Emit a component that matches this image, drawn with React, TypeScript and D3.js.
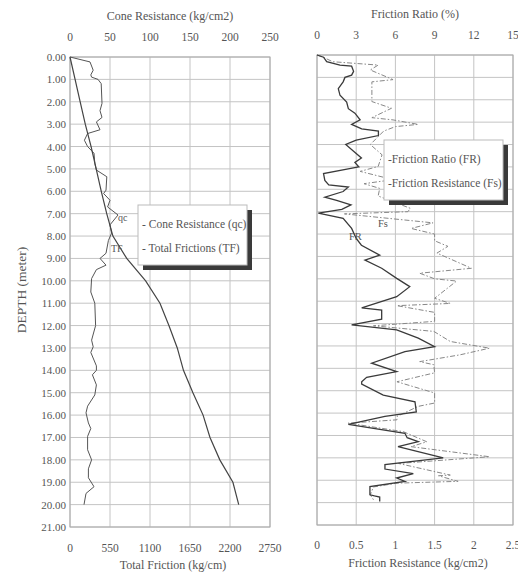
import React from "react";
import * as d3 from "d3";

// ---------- data ----------
const depthTicks = d3.range(0, 22, 1);
const qcTicks = [0, 50, 100, 150, 200, 250];
const tfTicks = [0, 550, 1100, 1650, 2200, 2750];
const frTicks = [0, 3, 6, 9, 12, 15];
const fsTicks = [0, 0.5, 1, 1.5, 2, 2.5];

const qcDepth = [0,0.22,0.59,0.8,0.9,1.0,1.19,2.07,2.4,2.7,2.9,3.25,3.42,3.72,4.0,4.3,4.75,5.05,5.35,5.95,6.1,6.4,6.7,7.06,7.5,7.87,8.2,8.77,9.0,9.3,9.5,9.9,10.5,11.0,12.0,12.65,12.95,13.2,13.8,14.0,14.2,14.65,15.1,15.6,15.9,16.35,16.6,16.95,17.55,18.0,18.4,18.8,19.2,19.5,20.0];
const qcValue = [0,25,29,26,27,35,39,40,37.5,40,33,37.5,22,18,22,30,31,33,46,45,42,50,47,60,50,52,48,45,37.5,45,33,27,26,31,32,27,29,26,33,33,28,33,31,22,20,23,26,22,22,27,23,23,30,20,17.5];

const tfDepth = [0,1,2,3,4,5,6,7,8,9,10,11,12,13,14,15,16,17,18,19,20];
const tfValue = [0,70,140,210,290,360,430,505,590,780,1040,1237,1360,1475,1560,1690,1830,1925,2060,2240,2320];

const frDepth = [0,0.1,0.3,0.45,0.5,0.73,0.9,1.0,1.2,1.5,1.8,2.1,2.4,2.6,2.9,3.1,3.3,3.4,3.6,3.8,4.0,4.3,4.6,4.8,5.0,5.3,5.6,5.8,5.9,6.1,6.35,6.5,6.7,6.9,7.07,7.3,7.75,8.2,8.5,8.94,9.16,9.53,9.98,10.35,10.8,11.3,11.4,11.8,12.06,12.28,12.65,13.03,13.25,13.77,14.15,14.4,14.6,14.7,15.2,15.5,15.95,16.15,16.5,16.9,17.1,17.28,17.5,18.0,18.3,18.5,18.7,18.9,19.05,19.28,19.65,19.7,19.75,19.95];
const frValue = [0,0.5,0.74,1.76,2.65,2.8,2.65,2.14,2.0,1.63,1.76,2.27,2.4,2.9,3.3,2.65,3.42,4.7,4.7,3.0,2.2,2.8,3.4,2.9,3.2,0.5,0.6,0.9,2.4,2.0,0.6,1.5,2.6,1.9,0.1,2.0,2.65,3.0,3.4,4.8,3.67,4.95,6.1,7.1,6.1,3.42,4.95,4.95,2.65,6.1,7.75,9.0,6.73,4.18,6.1,3.8,3.42,3.42,5.07,7.5,7.6,5.2,2.4,6.73,6.9,7.75,6.2,9.66,5.2,5.2,7.37,6.1,6.73,4.05,4.05,4.4,4.8,4.8];

const fsDepth = [0,0.1,0.3,0.45,0.67,1.1,1.2,2.08,2.38,2.8,2.9,3.1,3.2,3.4,4.0,4.46,4.98,5.2,5.57,5.75,5.96,6.3,6.85,7.0,7.1,7.5,7.75,8.0,8.3,8.55,8.85,9.53,9.75,10.0,10.1,10.87,11.1,11.2,11.5,11.9,12.1,12.35,12.8,13.1,13.4,13.7,13.84,14.2,14.6,15.1,15.55,15.7,16.15,16.3,16.45,16.83,17.28,17.5,17.95,18.25,18.77,18.8,19.05,19.13,19.3,19.65,19.87];
const fsValue = [0,0.08,0.2,0.78,0.68,0.97,0.7,0.7,0.95,0.7,0.97,1.29,1.0,0.85,0.68,0.83,0.78,0.55,0.97,0.6,0.8,0.78,1.19,1.16,0.35,1.48,1.2,1.5,1.5,1.67,1.53,1.97,1.31,1.5,1.78,1.5,1.7,1.02,1.5,1.5,0.72,1.49,1.7,2.2,1.82,1.31,1.49,1.5,1.02,1.5,1.5,1.29,1.02,1.02,0.4,1.1,1.4,1.2,2.2,1.04,1.7,1.55,1.8,1.02,0.72,0.68,0.72];

// ---------- layout ----------
const W = 518, H = 574;
const FONT = "Liberation Serif, Times New Roman, serif";
const TXT = "#555";
const GRID = "#c4c4c4";

const yL = d3.scaleLinear().domain([0, 21]).range([57, 527]);
const yR = d3.scaleLinear().domain([0, 21]).range([55, 525]);
const xQc = d3.scaleLinear().domain([0, 250]).range([70, 270]);
const xTf = d3.scaleLinear().domain([0, 2750]).range([70, 270]);
const xFr = d3.scaleLinear().domain([0, 15]).range([317, 513]);
const xFs = d3.scaleLinear().domain([0, 2.5]).range([317, 513]);

function linePath(depths: number[], vals: number[], x: any, y: any) {
  const pts = depths.map((d, i) => [x(vals[i]), y(d)] as [number, number]);
  return d3.line()(pts) || "";
}

function Grid({ x, y, xt, top, bottom }: any) {
  const [x0, x1] = x.range();
  return (
    <g>
      {depthTicks.map((d) => (
        <line key={"h" + d} x1={x0} x2={x1} y1={y(d)} y2={y(d)} stroke={GRID} strokeWidth={1} />
      ))}
      {xt.map((t: number) => (
        <line key={"v" + t} x1={x(t)} x2={x(t)} y1={top} y2={bottom} stroke={GRID} strokeWidth={1} />
      ))}
      <rect x={x0} y={top} width={x1 - x0} height={bottom - top} fill="none" stroke="#aaa" strokeWidth={1} />
    </g>
  );
}

function Legend({ x, y, w, h, lines }: any) {
  return (
    <g>
      <rect x={x + 5} y={y + 5} width={w} height={h} fill="#3a3a3a" />
      <rect x={x} y={y} width={w} height={h} fill="#fff" stroke="#bbb" strokeWidth={1} />
      {lines.map((t: string, i: number) => (
        <text key={t} x={x + 4} y={y + 23 + i * 24} fontSize={11.5} fill={TXT} fontFamily={FONT}>
          {t}
        </text>
      ))}
    </g>
  );
}

export default function App() {
  return (
    <svg width={W} height={H} style={{ position: "absolute", left: 0, top: 0, background: "#fff" }}>
      {/* LEFT PANEL */}
      <Grid x={xQc} y={yL} xt={qcTicks} top={57} bottom={527} />
      <text x={170} y={20} textAnchor="middle" fontSize={12} fill={TXT} fontFamily={FONT}>
        Cone Resistance (kg/cm2)
      </text>
      {qcTicks.map((t) => (
        <text key={t} x={xQc(t)} y={41} textAnchor="middle" fontSize={11.5} fill={TXT} fontFamily={FONT}>
          {t}
        </text>
      ))}
      {tfTicks.map((t) => (
        <text key={t} x={xTf(t)} y={552} textAnchor="middle" fontSize={11.5} fill={TXT} fontFamily={FONT}>
          {t}
        </text>
      ))}
      <text x={173} y={569} textAnchor="middle" fontSize={12} fill={TXT} fontFamily={FONT}>
        Total Friction (kg/cm)
      </text>
      {depthTicks.map((d) => (
        <text key={d} x={66} y={yL(d) + 4} textAnchor="end" fontSize={11} fill={TXT} fontFamily={FONT}>
          {d.toFixed(2)}
        </text>
      ))}
      <text
        transform={`translate(26,290) rotate(-90)`}
        textAnchor="middle"
        fontSize={13.5}
        fill={TXT}
        fontFamily={FONT}
      >
        DEPTH (meter)
      </text>
      <path d={linePath(qcDepth, qcValue, xQc, yL)} fill="none" stroke="#555" strokeWidth={1} />
      <path d={linePath(tfDepth, tfValue, xTf, yL)} fill="none" stroke="#444" strokeWidth={1.2} />
      <text x={118} y={221} fontSize={10} fill={TXT} fontFamily={FONT}>qc</text>
      <text x={111} y={252} fontSize={10} fill={TXT} fontFamily={FONT}>TF</text>
      <Legend x={138} y={205} w={109} h={60} lines={["- Cone Resistance (qc)", "- Total Frictions (TF)"]} />

      {/* RIGHT PANEL */}
      <Grid x={xFr} y={yR} xt={frTicks} top={55} bottom={525} />
      <text x={415} y={18} textAnchor="middle" fontSize={12} fill={TXT} fontFamily={FONT}>
        Friction Ratio (%)
      </text>
      {frTicks.map((t) => (
        <text key={t} x={xFr(t)} y={39} textAnchor="middle" fontSize={11.5} fill={TXT} fontFamily={FONT}>
          {t}
        </text>
      ))}
      {fsTicks.map((t) => (
        <text key={t} x={xFs(t)} y={549} textAnchor="middle" fontSize={11.5} fill={TXT} fontFamily={FONT}>
          {t}
        </text>
      ))}
      <text x={418} y={567} textAnchor="middle" fontSize={12} fill={TXT} fontFamily={FONT}>
        Friction Resistance (kg/cm2)
      </text>
      <path
        d={linePath(fsDepth, fsValue, xFs, yR)}
        fill="none"
        stroke="#888"
        strokeWidth={1}
        strokeDasharray="5,2,1.5,2"
      />
      <path d={linePath(frDepth, frValue, xFr, yR)} fill="none" stroke="#3a3a3a" strokeWidth={1.3} />
      <text x={378} y={227} fontSize={10.5} fill={TXT} fontFamily={FONT}>Fs</text>
      <text x={349} y={240} fontSize={10.5} fill={TXT} fontFamily={FONT}>FR</text>
      <Legend x={384} y={140} w={119} h={60} lines={["-Friction Ratio (FR)", "-Friction Resistance (Fs)"]} />
    </svg>
  );
}
